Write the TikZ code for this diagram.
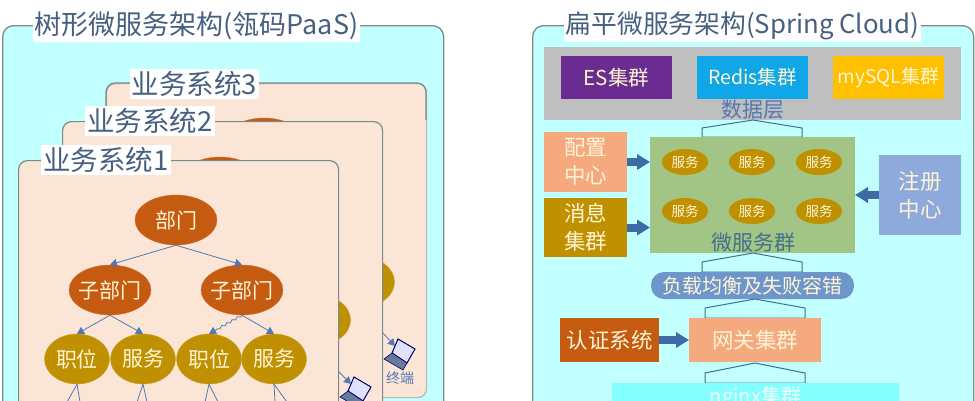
\documentclass[tikz,border=0pt]{standalone}
\usepackage{fontspec}
\setmainfont{Noto Sans CJK SC}
\usetikzlibrary{arrows.meta,decorations.pathmorphing,calc,shapes.geometric}
\definecolor{panelbg}{HTML}{C2FFFF}
\definecolor{peach}{HTML}{FBE5D6}
\definecolor{edgegray}{HTML}{7C8A8C}
\definecolor{titleblue}{HTML}{46607F}
\definecolor{rust}{HTML}{C55A11}
\definecolor{gold}{HTML}{BF9000}
\definecolor{salmon}{HTML}{F4A97F}
\definecolor{steel}{HTML}{3C6BA5}
\definecolor{linkblue}{HTML}{5478B4}
\definecolor{calloutedge}{HTML}{41708F}
\definecolor{softtext}{HTML}{FFF5D6}
\definecolor{esviolet}{HTML}{6B2C91}
\definecolor{redisblue}{HTML}{0FA7E8}
\definecolor{sqlamber}{HTML}{FFC000}
\definecolor{microgreen}{HTML}{A2C585}
\definecolor{regblue}{HTML}{8EA9DB}
\definecolor{lbblue}{HTML}{6F96CB}
\definecolor{nginxcyan}{HTML}{84FFFF}
\definecolor{datagray}{HTML}{BFBFBF}
\tikzset{
  x=1pt,y=-1pt,
  paneltwo/.style={draw=edgegray,line width=1.3pt,fill=panelbg,rounded corners=11pt},
  sysbox/.style={draw=edgegray,line width=1.2pt,fill=peach,rounded corners=9pt},
  headtext/.style={fill=white,text=titleblue,font=\fontsize{#1}{29}\selectfont,inner sep=2pt},
  systext/.style={fill=white,text=titleblue,font=\fontsize{27.5}{29}\selectfont,inner sep=2pt},
  deptnode/.style={ellipse,fill=rust,draw=rust!85!white,minimum width=82pt,minimum height=50pt,inner sep=-12pt,text=softtext,font=\fontsize{21}{23}\selectfont},
  leafnode/.style={ellipse,fill=gold,draw=gold!85!white,minimum width=65pt,minimum height=50pt,inner sep=-8pt,text=softtext,font=\fontsize{21}{23}\selectfont},
  svcnode/.style={ellipse,fill=gold,minimum width=46pt,minimum height=26pt,inner sep=-3pt,text=softtext,font=\fontsize{13.5}{15}\selectfont},
  flatbox/.style={inner sep=0pt,outer sep=0pt,text=softtext,align=center,font=\fontsize{21.5}{28}\selectfont},
  link/.style={draw=linkblue,line width=.8pt,-{Triangle[length=7pt,width=8pt]}},
  plainlink/.style={draw=linkblue,line width=.8pt},
  blockarrow/.style={draw=steel,line width=8pt,-{Triangle[length=13pt,width=15pt]}},
  callout/.style={draw=calloutedge,line width=1pt,line join=miter},
  layerlabel/.style={font=\fontsize{21}{23}\selectfont,inner sep=0pt},
  lapscreen/.style={draw=black!65!blue,line width=1pt,fill=white!88!blue},
  lapbase/.style={draw=black!55!blue,line width=.6pt,fill=linkblue!55!gray},
}
\newcommand{\bx}[7]{%
  \pgfmathsetmacro{\bw}{#5-#3}\pgfmathsetmacro{\bh}{#6-#4}%
  \node[#2,anchor=north west,minimum width=\bw pt,minimum height=\bh pt] (#1) at (#3,#4) {#7};}
\newcommand{\laptop}[2]{%
  \begin{scope}[shift={(#1,#2)}]
    \draw[lapscreen] (-2,-11)--(15,-1)--(7,13)--(-8,3)--cycle;
    \draw[lapbase] (-16,9)--(-8,3)--(7,13)--(3,20)--cycle;
  \end{scope}}
\begin{document}
\begin{tikzpicture}
\useasboundingbox (0,0) rectangle (975,400);
\clip (0,0) rectangle (975,400);
\fill[white] (0,0) rectangle (975,400);

% left panel
\bx{leftpanel}{paneltwo}{2}{25}{443}{430}{}
\node[headtext=27] (lefttitle) at (196.5,25.5) {树形微服务架构(瓴码PaaS)};

% system 3
\bx{sysC}{sysbox,draw=edgegray!50!peach}{106}{83}{426}{397}{}
\draw[edgegray,line width=1.2pt,rounded corners=9pt] (106,110)--(106,83)--(426,83)--(426,120);
\node[deptnode] (dC) at (264,143) {};
\node[leafnode] (lC) at (362,282) {};
\coordinate (lapCin) at (395,346);
\coordinate (lapCout) at (382,332);
\laptop{400}{350}
\draw[link] (lapCout) -- (lapCin);
\node[text=linkblue,font=\fontsize{14}{16}\selectfont,inner sep=0pt] (termC) at (400,378) {终端};
\node[systext] (sysCt) at (194.5,84) {业务系统3};

% system 2
\bx{sysB}{sysbox}{62}{121}{382}{440}{}
\node[deptnode] (dB) at (220,182) {};
\node[leafnode] (lB) at (318,320) {};
\coordinate (lapBin) at (351,384);
\coordinate (lapBout) at (338,371);
\laptop{356}{388}
\draw[link] (lapBout) -- (lapBin);
\node[systext] (sysBt) at (150,121) {业务系统2};

% system 1
\bx{sysA}{sysbox}{18}{160}{338}{470}{}
\node[systext] (sysAt) at (106,160) {业务系统1};
\node[deptnode] (dept) at (176,220) {部门};
\node[deptnode] (subL) at (110,290) {子部门};
\node[deptnode] (subR) at (242,290) {子部门};
\node[leafnode] (postA) at (77,359) {职位};
\node[leafnode] (svcA) at (143,359) {服务};
\node[leafnode] (postB) at (209,359) {职位};
\node[leafnode] (svcB) at (274,359) {服务};
\draw[link] (dept.south) -- (subL.north);
\draw[link] (dept.south) -- (subR.north);
\draw[link] (subL.south) -- (postA.north);
\draw[link] (subL.south) -- (svcA.north);
\draw[link,decorate,decoration={snake,amplitude=1pt,segment length=6pt,post length=8pt}] (subR.south) -- (postB.north);
\draw[link] (subR.south) -- (svcB.north);
\foreach \src/\xa/\xb in {postA/67/80,svcA/137/147,postB/205/218,svcB/275/287}{
  \coordinate (\src a) at (\xa,402);
  \coordinate (\src b) at (\xb,402);
  \draw[plainlink] (\src.south) -- (\src a);
  \draw[plainlink] (\src.south) -- (\src b);
}

% right panel
\bx{rightpanel}{paneltwo}{532}{25}{973}{430}{}
\node[headtext=25.8] (righttitle) at (742.5,25.5) {扁平微服务架构(Spring Cloud)};

% data layer
\bx{datalayer}{flatbox,fill=datagray}{544}{47}{961}{120}{}
\bx{es}{flatbox,fill=esviolet,font=\fontsize{20.5}{22}\selectfont}{561}{56}{672}{99}{ES集群}
\bx{redis}{flatbox,fill=redisblue,font=\fontsize{19.5}{22}\selectfont}{697}{56}{808}{99}{Redis集群}
\bx{mysql}{flatbox,fill=sqlamber,font=\fontsize{19}{22}\selectfont}{833}{56}{944}{99}{mySQL集群}
\node[layerlabel,text=linkblue] (datalabel) at (753,110) {数据层};
\draw[callout] (702,137)--(702,128)--(753,120)--(802,128)--(802,137)--cycle;

% microservices
\bx{micro}{flatbox,fill=microgreen}{650}{137}{855}{253}{}
\foreach \nm/\cx/\cy in {sa/685/162,sb/752/162,sc/819/162,sd/685/211,se/752/211,sf/819/211}
  \node[svcnode] (\nm) at (\cx,\cy) {服务};
\bx{config}{flatbox,fill=salmon}{544}{132}{627}{192}{配置\\中心}
\bx{mq}{flatbox,fill=gold}{544}{198}{627}{257}{消息\\集群}
\bx{registry}{flatbox,fill=regblue}{879}{155}{961}{235}{注册\\中心}
\draw[blockarrow] (config.east) -- (config.east -| micro.west);
\draw[blockarrow] (mq.east) -- (mq.east -| micro.west);
\draw[blockarrow] (registry.west) -- (registry.west -| micro.east);
\node[layerlabel,text=calloutedge] (microlabel) at (753,243) {微服务群};
\draw[callout] (702,272)--(702,262)--(753,253)--(802,262)--(802,272)--cycle;

% balancer
\bx{lb}{flatbox,fill=lbblue,rounded corners=13pt,font=\fontsize{20}{22}\selectfont}{651}{272}{854}{299}{负载均衡及失败容错}
\draw[callout] (705,318)--(705,308)--(755,299)--(805,308)--(805,318)--cycle;

% gateway
\bx{gateway}{flatbox,fill=salmon}{689}{318}{821}{362}{网关集群}
\bx{auth}{flatbox,fill=rust}{560}{318}{659}{362}{认证系统}
\draw[blockarrow] (auth.east) -- (gateway.west);
\draw[callout] (705,383)--(705,373)--(755,363)--(805,373)--(805,383)--cycle;

% nginx
\bx{nginx}{flatbox,fill=nginxcyan,text=white!88!nginxcyan,font=\fontsize{20}{22}\selectfont}{612}{383}{899}{412}{nginx集群}
\end{tikzpicture}
\end{document}
